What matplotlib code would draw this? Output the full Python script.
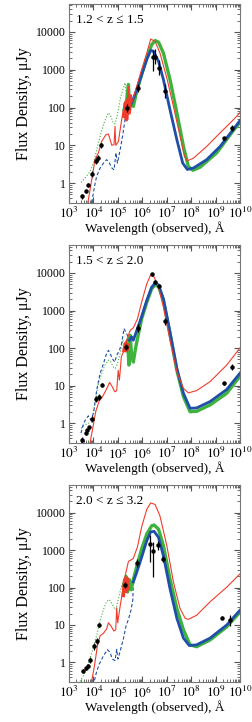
import numpy as np
import matplotlib.pyplot as plt
from matplotlib.ticker import FixedLocator, NullFormatter

plt.rcParams['font.family'] = 'serif'
plt.rcParams['font.serif'] = ['Liberation Serif', 'DejaVu Serif']
plt.rcParams['mathtext.fontset'] = 'stix'

# all curves are (log10 wavelength [A], log10 flux [uJy])
labels = ["1.2 < z \u2264 1.5", "1.5 < z \u2264 2.0", "2.0 < z \u2264 3.2"]

# ---- panel 1 : 1.2 < z <= 1.5
red_1 = [(3.76, -0.55), (3.86, -0.17), (3.97, 0.25), (4.06, 0.62), (4.20, 0.80), (4.34, 1.11),
         (4.51, 1.28), (4.61, 1.30), (4.75, 1.00), (4.84, 1.02), (4.88, 1.50), (4.91, 1.00),
         (5.02, 1.10), (5.11, 1.50), (5.20, 1.86), (5.29, 2.12), (5.36, 1.94), (5.43, 2.56),
         (5.50, 2.03), (5.61, 2.21), (5.77, 2.56), (5.97, 3.00), (6.18, 3.44), (6.34, 3.81),
         (6.52, 3.75), (6.72, 3.44), (7.00, 2.78), (7.27, 2.03), (7.54, 1.24), (7.72, 0.71),
         (7.84, 0.59), (8.09, 0.66), (8.63, 0.97), (9.18, 1.33), (9.73, 1.68), (10.0, 1.87)]
green_1 = [(5.25, 1.94), (5.36, 2.21), (5.43, 2.61), (5.47, 1.94), (5.54, 2.21), (5.63, 2.03),
           (5.77, 2.43), (5.97, 2.87), (6.18, 3.31), (6.38, 3.66), (6.52, 3.77), (6.66, 3.73),
           (6.86, 3.44), (7.13, 2.74), (7.41, 1.86), (7.68, 0.97), (7.88, 0.44), (8.06, 0.34),
           (8.36, 0.42), (9.04, 0.80), (9.73, 1.40), (10.0, 1.61)]
blue_1 = [(5.43, 1.94), (5.56, 2.12), (5.77, 2.47), (5.97, 2.87), (6.18, 3.27), (6.34, 3.51),
          (6.45, 3.49), (6.66, 3.22), (6.86, 2.74), (7.13, 1.94), (7.41, 1.15), (7.65, 0.53),
          (7.84, 0.36), (8.09, 0.40), (8.63, 0.62), (9.18, 0.97), (9.73, 1.43), (10.0, 1.66)]
bdash_1 = [(3.93, -0.51), (4.04, -0.09), (4.13, 0.18), (4.27, 0.40), (4.41, 0.53), (4.54, 0.62),
           (4.65, 0.53), (4.75, 0.40), (4.84, 0.35), (4.92, 0.80), (4.98, 0.53), (5.09, 0.88),
           (5.20, 1.28), (5.29, 1.68), (5.39, 1.86), (5.47, 1.94)]
gdot_1 = [(3.49, 0.02), (3.65, 0.13), (3.86, 0.31), (4.00, 0.53), (4.13, 0.88), (4.27, 1.24),
          (4.41, 1.55), (4.54, 1.77), (4.61, 1.86), (4.71, 1.77), (4.81, 1.59), (4.88, 1.57),
          (4.98, 1.81), (5.09, 2.21), (5.20, 2.47), (5.29, 2.65), (5.36, 2.21)]
irs_1 = [(5.25, 1.77), (5.31, 2.12), (5.35, 1.68), (5.41, 2.21), (5.46, 1.86), (5.50, 2.30)]
pts_1_x = [3.55, 3.68, 3.79, 3.955, 4.09, 4.20, 4.31, 5.36, 5.84, 6.42, 6.53, 6.70, 6.93, 9.32, 9.68]
pts_1_y = [-0.35, -0.20, -0.06, 0.23, 0.58, 0.66, 1.00, 1.99, 2.52, 3.34, 3.34, 3.05, 2.43, 1.19, 1.46]
err_1_lo = [0.07, 0.05, 0.05, 0.08, 0.08, 0.08, 0.06, 0.10, 0.10, 0.38, 0.20, 0.20, 0.18, 0.04, 0.08]
err_1_hi = [0.07, 0.05, 0.05, 0.08, 0.08, 0.08, 0.06, 0.10, 0.10, 0.19, 0.20, 0.20, 0.18, 0.04, 0.08]

# ---- panel 2 : 1.5 < z <= 2.0
red_2 = [(3.86, -0.51), (3.97, -0.13), (4.09, 0.31), (4.23, 0.59), (4.36, 0.70), (4.51, 0.88),
         (4.66, 1.09), (4.77, 0.97), (4.87, 0.84), (4.95, 0.87), (5.01, 1.41), (5.06, 1.15),
         (5.14, 1.77), (5.25, 1.94), (5.36, 2.21), (5.50, 2.47), (5.63, 2.54), (5.80, 2.78),
         (5.97, 3.22), (6.18, 3.71), (6.34, 3.95), (6.48, 3.89), (6.66, 3.62), (6.86, 3.09),
         (7.13, 2.21), (7.41, 1.37), (7.68, 0.93), (7.88, 0.81), (8.22, 0.87), (8.77, 1.11),
         (9.45, 1.55), (10.0, 2.01)]
green_2 = [(5.29, 1.94), (5.39, 2.21), (5.45, 1.55), (5.50, 2.34), (5.56, 1.81), (5.63, 1.63),
           (5.73, 2.03), (5.84, 2.38), (5.97, 2.78), (6.18, 3.22), (6.38, 3.58), (6.52, 3.68),
           (6.66, 3.64), (6.86, 3.27), (7.13, 2.38), (7.41, 1.41), (7.68, 0.71), (7.95, 0.31),
           (8.22, 0.32), (8.77, 0.49), (9.45, 0.80), (10.0, 1.26)]
blue_2 = [(5.47, 2.21), (5.56, 2.30), (5.63, 2.21), (5.77, 2.47), (5.97, 2.84), (6.18, 3.27),
          (6.38, 3.62), (6.52, 3.73), (6.66, 3.68), (6.86, 3.31), (7.13, 2.43), (7.41, 1.46),
          (7.68, 0.80), (7.95, 0.40), (8.22, 0.41), (8.77, 0.58), (9.45, 0.90), (10.0, 1.34)]
bdash_2 = [(3.49, -0.26), (3.59, 0.00), (3.70, 0.12), (3.79, 0.20), (3.89, 0.09), (4.00, 0.27),
           (4.13, 0.88), (4.27, 1.33), (4.41, 1.59), (4.51, 1.81), (4.61, 1.94), (4.68, 1.86),
           (4.77, 1.72), (4.87, 1.63), (4.95, 1.81), (5.06, 1.94), (5.15, 2.12), (5.25, 2.52),
           (5.36, 2.38), (5.47, 2.21)]
gdot_2 = [(3.49, -0.13), (3.65, -0.04), (3.79, 0.00), (3.93, 0.04), (4.06, 0.53), (4.20, 1.06),
          (4.34, 1.33), (4.47, 1.55), (4.61, 1.68), (4.71, 1.63), (4.81, 1.50), (4.90, 1.46),
          (4.98, 1.59), (5.09, 1.86), (5.20, 2.21), (5.29, 2.03)]
irs_2 = [(5.25, 1.94), (5.31, 2.12), (5.36, 1.94), (5.41, 2.08)]
pts_2_x = [3.55, 3.68, 3.75, 3.83, 3.95, 4.09, 4.21, 4.34, 5.33, 5.84, 6.41, 6.53, 6.70, 6.94, 9.32, 9.68]
pts_2_y = [-0.44, -0.25, -0.19, -0.11, 0.12, 0.64, 0.71, 1.02, 2.03, 2.54, 3.97, 3.75, 3.64, 2.71, 1.06, 1.50]
err_2_lo = [0.07, 0.05, 0.05, 0.05, 0.08, 0.08, 0.08, 0.06, 0.08, 0.10, 0.04, 0.04, 0.04, 0.10, 0.04, 0.08]
err_2_hi = err_2_lo

# ---- panel 3 : 2.0 < z <= 3.2
red_3 = [(3.93, -0.48), (4.04, -0.09), (4.16, 0.44), (4.27, 0.71), (4.41, 0.78), (4.54, 0.90),
         (4.61, 1.06), (4.72, 0.97), (4.83, 0.84), (4.91, 0.87), (4.95, 1.46), (4.99, 1.06),
         (5.09, 1.50), (5.20, 1.94), (5.29, 2.30), (5.43, 2.70), (5.54, 2.74), (5.63, 2.78),
         (5.80, 3.09), (5.97, 3.62), (6.18, 4.09), (6.34, 4.26), (6.52, 4.22), (6.72, 3.91),
         (7.00, 3.12), (7.27, 2.15), (7.54, 1.44), (7.75, 1.18), (7.88, 1.15), (8.22, 1.26),
         (8.77, 1.62), (9.45, 2.01), (10.0, 2.37)]
green_3 = [(5.22, 2.04), (5.33, 2.30), (5.39, 1.88), (5.47, 2.21), (5.54, 1.94), (5.63, 2.21),
           (5.77, 2.57), (5.97, 3.03), (6.18, 3.43), (6.38, 3.65), (6.48, 3.67), (6.66, 3.56),
           (6.86, 3.12), (7.13, 2.23), (7.41, 1.44), (7.68, 0.87), (7.95, 0.47), (8.22, 0.42),
           (8.77, 0.60), (9.45, 0.95), (10.0, 1.35)]
blue_3 = [(5.63, 2.15), (5.77, 2.41), (5.97, 2.81), (6.18, 3.25), (6.34, 3.49), (6.48, 3.50),
          (6.66, 3.34), (6.86, 2.85), (7.13, 1.97), (7.41, 1.18), (7.68, 0.65), (7.92, 0.45),
          (8.22, 0.47), (8.77, 0.65), (9.45, 1.00), (10.0, 1.40)]
bdash_3 = [(4.04, -0.48), (4.13, -0.24), (4.24, -0.04), (4.41, 0.18), (4.57, 0.34), (4.68, 0.27),
           (4.77, 0.09), (4.88, 0.05), (4.95, 0.35), (5.00, 0.09), (5.11, 0.35), (5.22, 0.62),
           (5.33, 0.97), (5.43, 1.15), (5.54, 1.41), (5.61, 1.68), (5.63, 2.15)]
gdot_3 = [(3.45, -0.51), (3.59, -0.35), (3.75, -0.09), (3.89, 0.18), (4.02, 0.44), (4.16, 0.80),
          (4.30, 1.19), (4.43, 1.46), (4.54, 1.63), (4.65, 1.68), (4.75, 1.57), (4.84, 1.46),
          (4.92, 1.41), (4.98, 1.59), (5.09, 1.90), (5.20, 2.12)]
irs_3 = [(5.22, 1.79), (5.28, 2.21), (5.32, 1.90), (5.37, 2.25), (5.41, 1.97)]
pts_3_x = [3.57, 3.68, 3.76, 3.86, 4.02, 4.13, 4.24, 5.29, 5.77, 6.32, 6.45, 6.62, 6.86, 9.25, 9.59]
pts_3_y = [-0.22, -0.16, -0.09, 0.06, 0.43, 0.56, 1.00, 2.08, 2.66, 3.16, 2.98, 3.13, 2.76, 1.19, 1.12]
err_3_lo = [0.05, 0.05, 0.05, 0.08, 0.10, 0.08, 0.06, 0.08, 0.10, 0.48, 0.71, 0.12, 0.08, 0.04, 0.15]
err_3_hi = [0.05, 0.05, 0.05, 0.08, 0.10, 0.08, 0.06, 0.08, 0.10, 0.24, 0.23, 0.12, 0.08, 0.04, 0.15]

panels = [
    (red_1, green_1, blue_1, bdash_1, gdot_1, irs_1, pts_1_x, pts_1_y, err_1_lo, err_1_hi),
    (red_2, green_2, blue_2, bdash_2, gdot_2, irs_2, pts_2_x, pts_2_y, err_2_lo, err_2_hi),
    (red_3, green_3, blue_3, bdash_3, gdot_3, irs_3, pts_3_x, pts_3_y, err_3_lo, err_3_hi),
]

RED = '#f03c2c'
GREEN = '#3db23d'
BLUE = '#1f4fa8'

def curve(c):
    a = np.array(c)
    return 10 ** a[:, 0], 10 ** a[:, 1]

fig = plt.figure(figsize=(2.52, 7.22), dpi=100)
boxes = [[0.274, 0.719, 0.679, 0.2756],
         [0.274, 0.3864, 0.679, 0.2742],
         [0.274, 0.0554, 0.679, 0.2729]]

for box, lab, p in zip(boxes, labels, panels):
    red, green, blue, bdash, gdot, irs, px, py, elo, ehi = p
    ax = fig.add_axes(box)
    ax.set_xscale('log')
    ax.set_yscale('log')

    ax.plot(*curve(gdot), color=GREEN, lw=0.8, ls=':')
    ax.plot(*curve(bdash), color=BLUE, lw=0.8, ls=(0, (3, 2)))
    ax.plot(*curve(green), color=GREEN, lw=2.4)
    ax.plot(*curve(blue), color=BLUE, lw=2.0)
    ax.plot(*curve(red), color=RED, lw=0.8)
    ax.plot(*curve(irs), color=RED, lw=2.6)

    px = np.array(px)
    py = np.array(py)
    y = 10 ** py
    lo = y - 10 ** (py - np.array(elo))
    hi = 10 ** (py + np.array(ehi)) - y
    ax.errorbar(10 ** px, y, yerr=[lo, hi], fmt='o', color='black', ms=2.2,
                elinewidth=0.9, capsize=0, zorder=5)

    ax.set_xlim(1e3, 1e10)
    ax.set_ylim(0.3, 55000)
    ax.xaxis.set_major_locator(FixedLocator([10.0 ** k for k in range(3, 11)]))
    ax.set_xticklabels([r'$10^{%d}$' % k for k in range(3, 11)])
    ax.xaxis.set_minor_locator(FixedLocator([m * 10.0 ** k for k in range(3, 10) for m in range(2, 10)]))
    ax.xaxis.set_minor_formatter(NullFormatter())
    ax.yaxis.set_major_locator(FixedLocator([1, 10, 100, 1000, 10000]))
    ax.set_yticklabels(['1', '10', '100', '1000', '10000'])
    ax.yaxis.set_minor_locator(FixedLocator([m * 10.0 ** k for k in range(-1, 5) for m in range(2, 10)]))
    ax.yaxis.set_minor_formatter(NullFormatter())
    ax.tick_params(which='both', direction='in', top=True, right=True, color='#555555', pad=2)
    ax.tick_params(axis='y', labelsize=8.5)
    ax.tick_params(axis='x', labelsize=9.5)
    ax.tick_params(which='major', length=4)
    ax.tick_params(which='minor', length=2)
    for s in ax.spines.values():
        s.set_color('#777777')
    ax.set_xlabel('Wavelength (observed), \u00c5', fontsize=9.5, labelpad=0)
    ax.set_ylabel('Flux Density, \u03bcJy', fontsize=11.5, labelpad=3)
    ax.text(0.04, 0.95, lab, transform=ax.transAxes, fontsize=9.5, va='top', ha='left')

fig.savefig('out.png', dpi=100)
